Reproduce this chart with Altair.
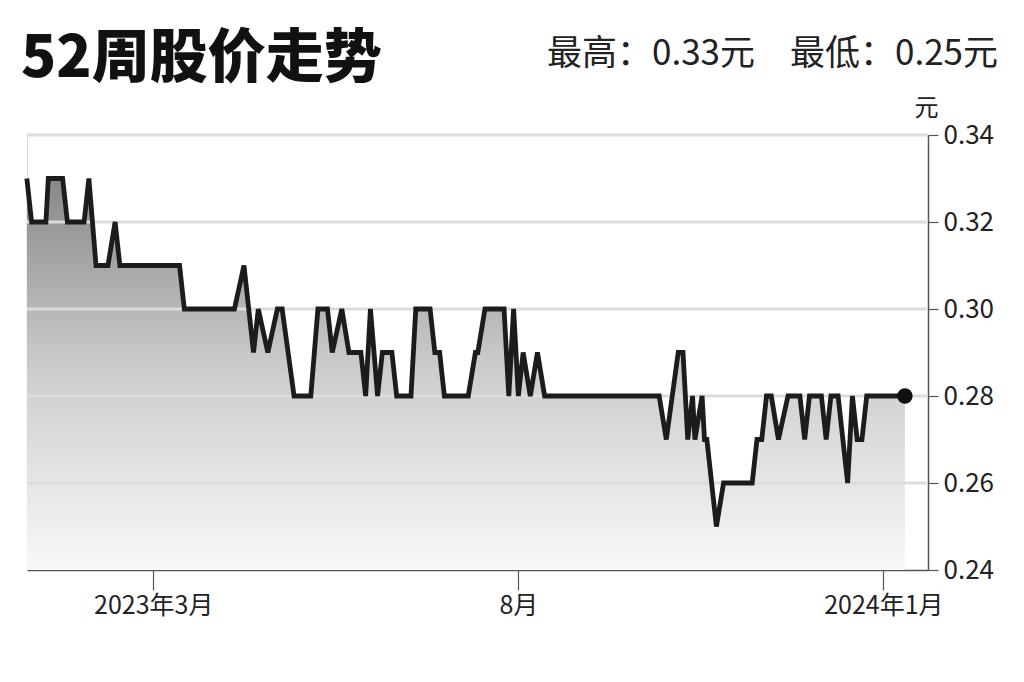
import altair as alt
import pandas as pd

# ---- data ----
dates = [
    "2023-01-07", "2023-01-09", "2023-01-15", "2023-01-16", "2023-01-22", "2023-01-24",
    "2023-01-31", "2023-02-02", "2023-02-05", "2023-02-10", "2023-02-13", "2023-02-15",
    "2023-03-12", "2023-03-14", "2023-04-04", "2023-04-08", "2023-04-12", "2023-04-14",
    "2023-04-18", "2023-04-22", "2023-04-24", "2023-04-29", "2023-05-06", "2023-05-09",
    "2023-05-13", "2023-05-15", "2023-05-19", "2023-05-22", "2023-05-27", "2023-05-29",
    "2023-05-31", "2023-06-03", "2023-06-05", "2023-06-09", "2023-06-11", "2023-06-17",
    "2023-06-19", "2023-06-25", "2023-06-27", "2023-06-29", "2023-07-01", "2023-07-11",
    "2023-07-14", "2023-07-15", "2023-07-18", "2023-07-26", "2023-07-28", "2023-07-30",
    "2023-08-01", "2023-08-03", "2023-08-06", "2023-08-09", "2023-08-12", "2023-09-29",
    "2023-10-02", "2023-10-07", "2023-10-09", "2023-10-11", "2023-10-13", "2023-10-14",
    "2023-10-17", "2023-10-18", "2023-10-19", "2023-10-23", "2023-10-26", "2023-11-07",
    "2023-11-09", "2023-11-11", "2023-11-13", "2023-11-15", "2023-11-18", "2023-11-22",
    "2023-11-27", "2023-11-29", "2023-12-01", "2023-12-06", "2023-12-08", "2023-12-10",
    "2023-12-13", "2023-12-17", "2023-12-19", "2023-12-21", "2023-12-23", "2023-12-25",
    "2024-01-10",
]
prices = [
    0.33, 0.32, 0.32, 0.33, 0.33, 0.32,
    0.32, 0.33, 0.31, 0.31, 0.32, 0.31,
    0.31, 0.30, 0.30, 0.31, 0.29, 0.30,
    0.29, 0.30, 0.30, 0.28, 0.28, 0.30,
    0.30, 0.29, 0.30, 0.29, 0.29, 0.28,
    0.30, 0.28, 0.29, 0.29, 0.28, 0.28,
    0.30, 0.30, 0.29, 0.29, 0.28, 0.28,
    0.29, 0.29, 0.30, 0.30, 0.28, 0.30,
    0.28, 0.29, 0.28, 0.29, 0.28, 0.28,
    0.27, 0.29, 0.29, 0.27, 0.28, 0.27,
    0.28, 0.27, 0.27, 0.25, 0.26, 0.26,
    0.27, 0.27, 0.28, 0.28, 0.27, 0.28,
    0.28, 0.27, 0.28, 0.28, 0.27, 0.28,
    0.28, 0.26, 0.28, 0.27, 0.27, 0.28,
    0.28,
]

y_ticks = [0.24, 0.26, 0.28, 0.30, 0.32, 0.34]
x_tick_dates = ["2023-03-01", "2023-08-01", "2024-01-01"]
x_tick_labels = ["2023年3月", "8月", "2024年1月"]
title_text = "52周股价走势"
unit_text = "元"

FONT = "Noto Sans CJK SC"
W, H = 901, 435

df = pd.DataFrame({"date": dates, "price": prices})
grid_df = pd.DataFrame({"price": y_ticks[1:]})
hi, lo = max(prices), min(prices)
summary_text = f"最高：{hi:.2f}{unit_text}\u3000最低：{lo:.2f}{unit_text}"


def dt(s, h=0, m=0):
    y, mo, d = (int(v) for v in s.split("-"))
    return alt.DateTime(year=y, month=mo, date=d, hours=h, minutes=m, utc=True)


label_expr = "''"
for d, lab in reversed(list(zip(x_tick_dates, x_tick_labels))):
    label_expr = f"utcFormat(datum.value, '%Y-%m-%d') == '{d}' ? '{lab}' : ({label_expr})"

x_enc = alt.X(
    "date:T",
    scale=alt.Scale(domain=[dt("2023-01-07", 1, 40), dt("2024-01-19", 16, 20)]),
    axis=alt.Axis(
        values=[dt(s) for s in x_tick_dates],
        labelExpr=label_expr,
        title=None,
        grid=False,
        domainColor="#555555",
        domainWidth=1.5,
        tickColor="#555555",
        tickWidth=1.2,
        tickSize=20,
        labelPadding=3,
        labelFontSize=25,
        labelColor="#222222",
        labelFont=FONT,
    ),
)
y_scale = alt.Scale(domain=[y_ticks[0], y_ticks[-1]], zero=False)
y_axis = alt.Axis(
    orient="right",
    values=y_ticks,
    format=".2f",
    grid=False,
    title=unit_text,
    titleAngle=0,
    titleX=-2,
    titleY=-20,
    titleAlign="center",
    titleBaseline="alphabetic",
    titleFontSize=24,
    titleFontWeight="normal",
    titleColor="#222222",
    titleFont=FONT,
    domainColor="#555555",
    domainWidth=1.5,
    tickColor="#555555",
    tickWidth=1.2,
    tickSize=10,
    labelPadding=5,
    labelFontSize=26,
    labelColor="#222222",
    labelFont=FONT,
)
y_enc = alt.Y("price:Q", scale=y_scale, axis=y_axis)

base = alt.Chart(df)

area = base.mark_area(
    color=alt.Gradient(
        gradient="linear",
        stops=[
            alt.GradientStop(color="#888888", offset=0),
            alt.GradientStop(color="#cecece", offset=0.5),
            alt.GradientStop(color="#f8f8f8", offset=1),
        ],
        x1=0, x2=0, y1=0, y2=1,
    )
).encode(x=x_enc, y=y_enc, y2=alt.datum(y_ticks[0]))

grid = alt.Chart(grid_df).mark_rule(color="#dcdcdc", strokeWidth=3).encode(
    y=y_enc
)

line = base.mark_line(color="#1c1c1c", strokeWidth=4.8, strokeJoin="miter").encode(
    x=x_enc, y=y_enc
)

dot = alt.Chart(df.tail(1)).mark_circle(color="#111111", size=240, opacity=1).encode(
    x=x_enc, y=y_enc
)

title = alt.Chart(pd.DataFrame({"t": [title_text]})).mark_text(
    align="left", baseline="alphabetic", fontSize=58, fontWeight=900,
    font=FONT, color="#111111"
).encode(text="t:N", x=alt.value(-6), y=alt.value(-58))

summary = alt.Chart(pd.DataFrame({"t": [summary_text]})).mark_text(
    align="right", baseline="alphabetic", fontSize=35, font=FONT, color="#222222"
).encode(text="t:N", x=alt.value(971), y=alt.value(-70))

chart = alt.layer(area, grid, line, dot, title, summary).properties(
    width=W,
    height=H,
    autosize=alt.AutoSizeParams(type="none"),
    padding={"left": 19, "top": 127, "right": 88, "bottom": 96},
    background="white",
).configure_view(stroke=None).configure(font=FONT)

chart.save("out.html", embed_options={"renderer": "svg", "actions": False})
